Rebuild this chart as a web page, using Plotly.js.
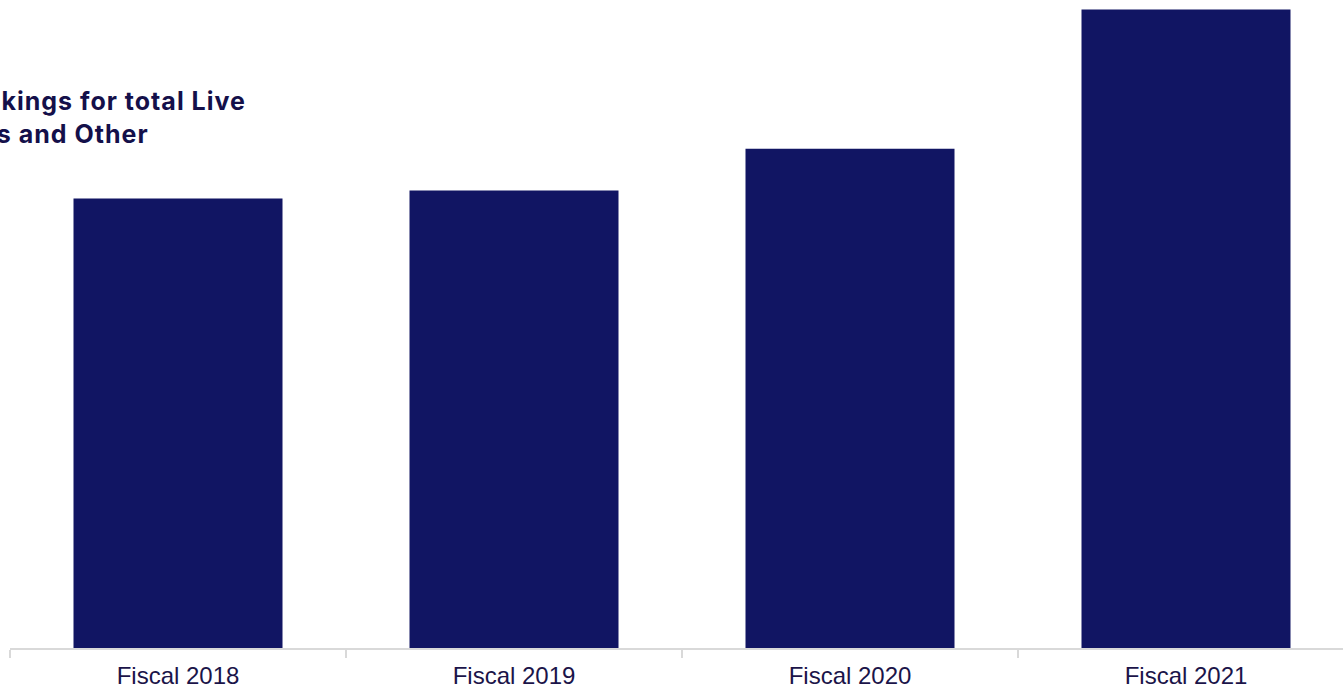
<!DOCTYPE html>
<html>
<head>
<meta charset="utf-8">
<script src="https://cdn.plot.ly/plotly-3.0.1.min.js"></script>
<style>
html,body{margin:0;padding:0;background:#fff;overflow:hidden}
#chart{width:1343px;height:687px}
.annotation-text{letter-spacing:1px}
</style>
</head>
<body>
<div id="chart"></div>
<script>
const categories = ["Fiscal 2018", "Fiscal 2019", "Fiscal 2020", "Fiscal 2021"];
const netBookings = [2.81, 2.86, 3.12, 3.99];
const titleLines = ["Net bookings for total Live", "services and Other"];

const titleSize = 25;
const letterSp = 1.0;
const cv = document.createElement("canvas").getContext("2d");
cv.font = "bold " + titleSize + "px Inter";
const w1 = cv.measureText(titleLines[0]).width + titleLines[0].length * letterSp;
const plotL = 10, plotW = 1333;
const titleX = (244 - w1 - plotL) / plotW;

const trace = {
  type: "bar",
  x: categories,
  y: netBookings,
  marker: {color: "#111563"},
  hoverinfo: "x+y"
};
const layout = {
  width: 1343, height: 687,
  margin: {l: 10, r: 0, t: 0, b: 39, pad: 0},
  paper_bgcolor: "#fff", plot_bgcolor: "#fff",
  bargap: 0.378,
  showlegend: false,
  xaxis: {
    type: "category",
    range: [-0.5, -0.5 + 1333/336],
    tickson: "boundaries",
    ticks: "outside", ticklen: 8, tickwidth: 1.5, tickcolor: "#d9d9d9",
    ticklabelstandoff: 5,
    showline: true, linecolor: "#d9d9d9", linewidth: 2,
    showgrid: false, zeroline: false,
    tickfont: {family: "Liberation Sans, Arial, sans-serif", size: 24, color: "#1b1449"}
  },
  yaxis: {visible: false, range: [0, 4.05], showgrid: false, zeroline: false},
  annotations: [{
    xref: "paper", yref: "paper",
    x: titleX, y: 1 - 84/648,
    xanchor: "left", yanchor: "top", align: "left",
    showarrow: false,
    text: "<b>" + titleLines.join("<br>") + "</b>",
    font: {family: "Inter", size: titleSize, color: "#14104a"}
  }]
};
Plotly.newPlot("chart", [trace], layout, {displayModeBar: false, staticPlot: true});
</script>
</body>
</html>
